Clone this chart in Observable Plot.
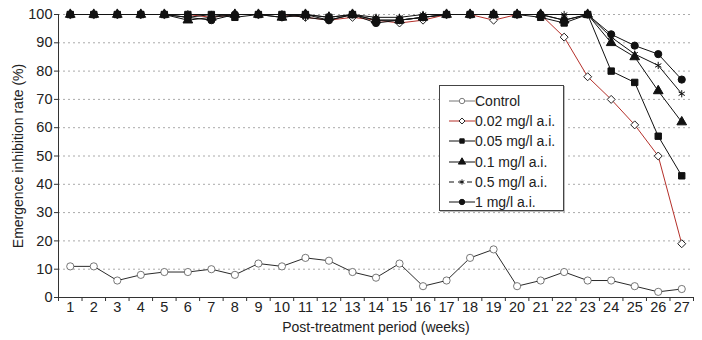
<!DOCTYPE html>
<html>
<head>
<meta charset="utf-8">
<script src="https://cdn.jsdelivr.net/npm/d3@7"></script>
<script src="https://cdn.jsdelivr.net/npm/@observablehq/plot@0.6"></script>
<style>
  html, body { margin: 0; padding: 0; background: #fff; }
  #wrap { position: relative; width: 702px; height: 340px; font-family: "Liberation Sans", Arial, sans-serif; }
  #legend { position: absolute; left: 439px; top: 85px; width: 125px; height: 126px; border: 1px solid #444; background: #fff; box-sizing: border-box; box-shadow: 1px 1px 0 #bbb; }
  .row { position: absolute; left: 0; height: 20px; display: flex; align-items: center; font-size: 14px; color: #222; white-space: nowrap; }
  .row svg { display: block; }
</style>
</head>
<body>
<div id="wrap"><div id="chart"></div><div id="legend"></div></div>
<script>
const weeks = d3.range(1, 28);
const seriesNames = ["Control", "0.02 mg/l a.i.", "0.05 mg/l a.i.", "0.1 mg/l a.i.", "0.5 mg/l a.i.", "1 mg/l a.i."];
const control = [11,11,6,8,9,9,10,8,12,11,14,13,9,7,12,4,6,14,17,4,6,9,6,6,4,2,3];
const c002 = [100,100,100,100,100,100,99,100,100,100,99,98,99,98,97,98,100,100,98,100,100,92,78,70,61,50,19];
const c005 = [100,100,100,100,100,100,100,99,100,100,100,99,100,98,98,99,100,100,100,100,99,97,100,80,76,57,43];
const c01  = [100,100,100,100,100,98,99,100,100,99,100,99,100,98,98,99,100,100,100,100,100,98,100,90,85,73,62];
const c05  = [100,100,100,100,100,99,100,100,100,100,99,98,100,99,99,100,100,100,100,100,100,100,100,92,86,82,72];
const c1   = [100,100,100,100,100,99,98,100,100,99,100,98,100,97,98,99,100,100,100,100,100,98,100,93,89,86,77];
const allValues = [control, c002, c005, c01, c05, c1];
const lineColors = ["#2a2a2a", "#b5302a", "#111", "#111", "#111", "#111"];
const symbols = ["circle", "diamond2", "square", "triangle", "asterisk", "circle"];
const fills = ["white", "white", "#111", "#111", "none", "#111"];
const strokes = ["#555", "#222", "#111", "#111", "#111", "#111"];
const yTicks = d3.range(0, 101, 10);

const data = allValues.flatMap((vals, si) => vals.map((v, i) => ({series: seriesNames[si], si, week: weeks[i], value: v})));

const marks = [
  Plot.gridY(yTicks.filter(d => d > 0), {stroke: "#aaa", strokeOpacity: 1, strokeDasharray: "2,3"}),
  Plot.axisY(yTicks, {tickSize: 4, tickPadding: 2, fontSize: 14.5, label: null, stroke: "#333"}),
  Plot.axisX(weeks, {tickSize: 0, tickPadding: 4, fontSize: 14.5, label: null, tickFormat: d => String(d)}),
  Plot.axisX(d3.range(0.5, 28, 1), {tickSize: 4, tickFormat: () => "", label: null, stroke: "#333"}),
  Plot.ruleY([0], {stroke: "#333"}),
  Plot.ruleX([0.5], {stroke: "#333"}),
  Plot.text(["Post-treatment period (weeks)"], {frameAnchor: "bottom", dy: 25, lineAnchor: "top", fontSize: 14, fill: "#222"}),
  Plot.text(["Emergence inhibition rate (%)"], {frameAnchor: "left", dx: -40, rotate: -90, textAnchor: "middle", fontSize: 14, fill: "#222"})
];
allValues.forEach((vals, si) => {
  const d = data.filter(r => r.si === si);
  marks.push(Plot.line(d, {x: "week", y: "value", stroke: lineColors[si], strokeWidth: 1}));
  marks.push(Plot.dot(d, {x: "week", y: "value", symbol: () => symbols[si], r: si === 4 ? 3.4 : 3.6, fill: fills[si], stroke: strokes[si], strokeWidth: si === 0 ? 0.8 : 1}));
});

const chart = Plot.plot({
  width: 702, height: 340,
  marginLeft: 58, marginRight: 9, marginTop: 14, marginBottom: 43,
  style: {fontFamily: '"Liberation Sans", Arial, sans-serif', color: "#222", background: "white"},
  x: {type: "linear", domain: [0.5, 27.5], axis: null},
  y: {domain: [0, 100], axis: null},
  symbol: {type: "identity"},
  marks
});
document.getElementById("chart").appendChild(chart);

// legend
const legend = document.getElementById("legend");
const symPath = {
  circle: d3.symbol(d3.symbolCircle, 36)(),
  diamond2: d3.symbol(d3.symbolDiamond2, 36)(),
  square: d3.symbol(d3.symbolSquare, 30)(),
  triangle: d3.symbol(d3.symbolTriangle, 36)(),
  asterisk: d3.symbol(d3.symbolAsterisk, 30)()
};
seriesNames.forEach((name, si) => {
  const row = document.createElement("div");
  row.className = "row";
  row.style.top = (5 + si * 20.2) + "px";
  row.style.left = "9px";
  const lc = si === 0 ? "#777" : lineColors[si];
  const sc = si === 0 ? "#777" : strokes[si];
  const dash = si === 4 ? ' stroke-dasharray="5,4"' : "";
  row.innerHTML = `<svg width="26" height="20"><line x1="0" x2="26" y1="10" y2="10" stroke="${lc}" stroke-width="1"${dash}/>` +
    `<path transform="translate(13,10) scale(0.8)" d="${symPath[symbols[si]]}" fill="${fills[si]}" stroke="${sc}" stroke-width="1.2"/></svg><span>${name}</span>`;
  legend.appendChild(row);
});
</script>
</body>
</html>
